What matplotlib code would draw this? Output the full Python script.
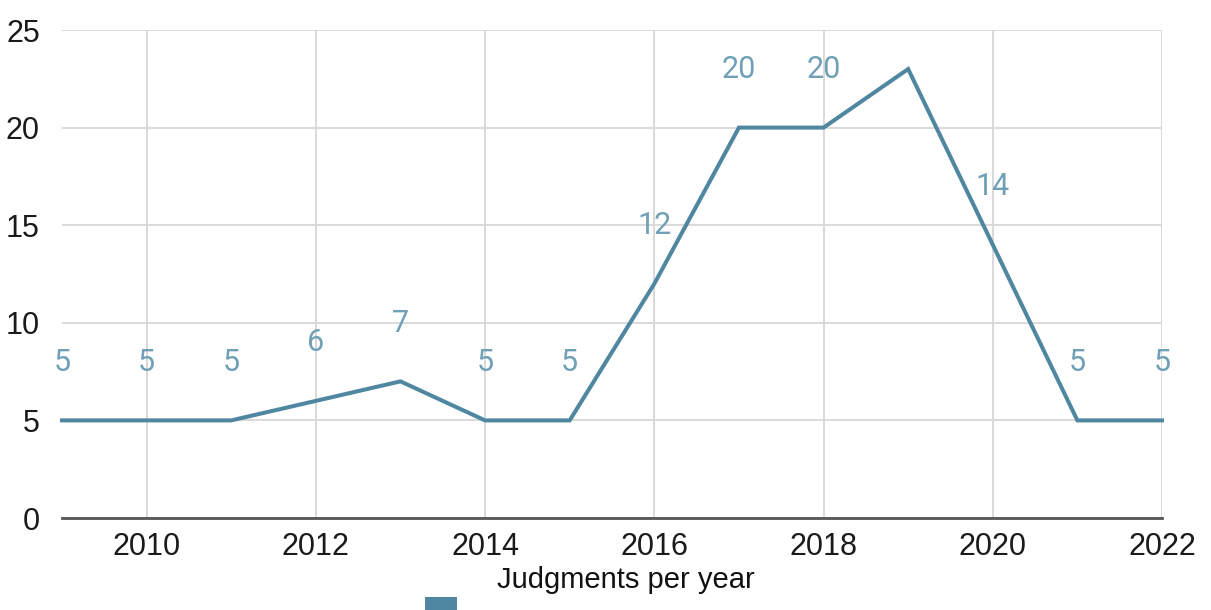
import matplotlib
matplotlib.use("Agg")
import matplotlib.pyplot as plt
from matplotlib.patches import Rectangle

years = [2009, 2010, 2011, 2012, 2013, 2014, 2015, 2016, 2017, 2018, 2019, 2020, 2021, 2022]
judgments = [5, 5, 5, 6, 7, 5, 5, 12, 20, 20, 23, 14, 5, 5]
point_labels = ["5", "5", "5", "6", "7", "5", "5", "12", "20", "20", "", "14", "5", "5"]
x_ticks = [2010, 2012, 2014, 2016, 2018, 2020, 2022]
y_ticks = [0, 5, 10, 15, 20, 25]
legend_label = "Judgments per year"

line_color = "#4f86a0"
label_color = "#6fa0b6"

fig = plt.figure(figsize=(12.11, 6.10), dpi=100)
ax = fig.add_axes([62 / 1211, 1 - 518 / 610, (1162 - 62) / 1211, (518 - 30) / 610])

ax.plot(years, judgments, color=line_color, linewidth=2.9, solid_joinstyle="miter", zorder=3, clip_on=False)
for x, y, t in zip(years, judgments, point_labels):
    if t:
        ax.annotate(t, (x, y), xytext=(0, 42), textcoords="offset points",
                    ha="center", va="center", color=label_color,
                    fontsize=22, family=["Roboto", "DejaVu Sans"], zorder=4)

ax.set_xlim(2009, 2022)
ax.set_ylim(0, 25)
ax.set_xticks(x_ticks)
ax.set_yticks(y_ticks)
ax.grid(True, color="#d9d9d9", linewidth=1.4, zorder=0)
for s in ["top", "left", "right"]:
    ax.spines[s].set_visible(False)
ax.spines["bottom"].set_color("#555555")
ax.spines["bottom"].set_linewidth(2)
ax.tick_params(axis="both", length=0, labelsize=22, colors="#1a1a1a")
ax.tick_params(axis="x", pad=10)
ax.tick_params(axis="y", pad=16)
for lab in ax.get_xticklabels() + ax.get_yticklabels():
    lab.set_family(["Liberation Sans", "DejaVu Sans"])

fig.add_artist(Rectangle((425 / 1211, 0), 32 / 1211, 13 / 610, transform=fig.transFigure,
                         facecolor=line_color, edgecolor="none"))
fig.text(497 / 1211, 1 - 580 / 610, legend_label, ha="left", va="center",
         fontsize=21, family=["Liberation Sans", "DejaVu Sans"], color="#111111")

fig.savefig("out.png", dpi=100)
